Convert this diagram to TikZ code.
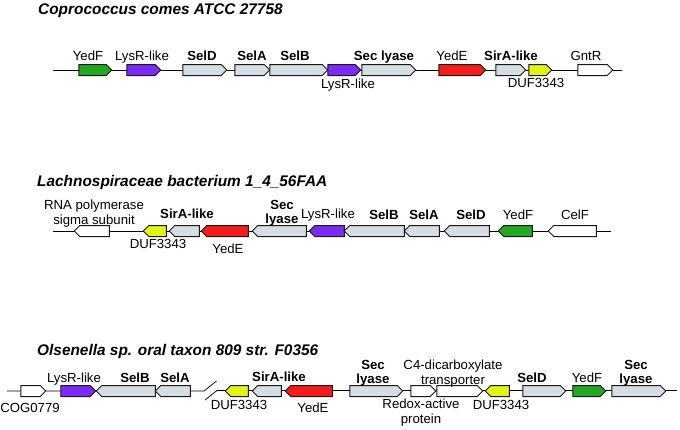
\documentclass[tikz,border=0pt]{standalone}
\usepackage{fontspec}
\setmainfont{Liberation Sans}
\usetikzlibrary{shapes.arrows}
\definecolor{gGreen}{RGB}{34,168,34}
\definecolor{gPurple}{RGB}{122,44,245}
\definecolor{gRed}{RGB}{245,28,28}
\definecolor{gYellow}{RGB}{226,244,22}
\definecolor{gGray}{RGB}{212,222,227}
\definecolor{gEdge}{RGB}{25,25,25}
\tikzset{
  gene/.style={shape=single arrow, single arrow head extend=0pt,
    single arrow tip angle=90, minimum width=11pt, inner sep=0pt, outer sep=0pt,
    draw=gEdge, line width=1pt},
  gR/.style={},
  gL/.style={shape border rotate=180},
  green/.style={fill=gGreen}, purple/.style={fill=gPurple}, red/.style={fill=gRed},
  yellow/.style={fill=gYellow}, gray/.style={fill=gGray}, white/.style={fill=white},
  backbone/.style={draw=black, line width=0.75pt},
  lab/.style={font=\fontsize{13.2}{14.5}\selectfont, inner sep=0pt, anchor=base},
  blab/.style={lab, font=\fontsize{13.2}{14.5}\selectfont\bfseries},
  mlab/.style={lab, anchor=north, align=center},
  mblab/.style={blab, anchor=north, align=center},
  title/.style={font=\fontsize{15.4}{17}\selectfont\bfseries\itshape, inner sep=0pt, anchor=base west}
}
\newcommand\gene[6]{\node[gene,#5,#6,minimum height={#3-#2}] (#1) at ({(#2+#3)/2},#4) {};}
\begin{document}
\begin{tikzpicture}[x=1pt,y=-1pt]
\useasboundingbox (0,0) rectangle (680,429);
% ---------- Row 1 ----------
\node[title] (t1) at (38,14) {Coprococcus comes ATCC 27758};
\coordinate (r1s) at (53,70);
\coordinate (r1e) at (622,70);
\draw[backbone] (r1s) -- (r1e);
\gene{g1a}{76}{109}{70}{green}{gR}
\gene{g1b}{124}{158}{70}{purple}{gR}
\gene{g1c}{180}{224}{70}{gray}{gR}
\gene{g1d}{232}{267}{70}{gray}{gR}
\gene{g1e}{267}{325}{70}{gray}{gR}
\gene{g1f}{325}{358}{70}{purple}{gR}
\gene{g1g}{359}{413}{70}{gray}{gR}
\gene{g1h}{436}{483}{70}{red}{gR}
\gene{g1i}{493}{523}{70}{gray}{gR}
\gene{g1j}{526}{549}{70}{yellow}{gR}
\gene{g1k}{575}{610}{70}{white}{gR}
\node[lab] (l1a) at (88,60) {YedF};
\node[lab] (l1b) at (142,60) {LysR-like};
\node[blab] (l1c) at (202,60) {SelD};
\node[blab] (l1d) at (252,60) {SelA};
\node[blab] (l1e) at (295,60) {SelB};
\node[lab] (l1f) at (348,88) {LysR-like};
\node[blab] (l1g) at (384,60) {Sec lyase};
\node[lab] (l1h) at (452,60) {YedE};
\node[blab] (l1i) at (511,60) {SirA-like};
\node[lab] (l1j) at (536,87) {DUF3343};
\node[lab] (l1k) at (586,60) {GntR};
% ---------- Row 2 ----------
\node[title] (t2) at (37,186) {Lachnospiraceae bacterium 1\_4\_56FAA};
\coordinate (r2s) at (53,231);
\coordinate (r2e) at (611,231);
\draw[backbone] (r2s) -- (r2e);
\gene{g2a}{77}{112}{231}{white}{gL}
\gene{g2b}{146}{169}{231}{yellow}{gL}
\gene{g2c}{172}{202}{231}{gray}{gL}
\gene{g2d}{204}{251}{231}{red}{gL}
\gene{g2e}{255}{309}{231}{gray}{gL}
\gene{g2f}{312}{347}{231}{purple}{gL}
\gene{g2g}{347}{407}{231}{gray}{gL}
\gene{g2h}{407}{442}{231}{gray}{gL}
\gene{g2i}{447}{492}{231}{gray}{gL}
\gene{g2j}{501}{535}{231}{green}{gL}
\gene{g2k}{551}{599}{231}{white}{gL}
\node[mlab] (l2a) at (94,200) {RNA polymerase\\sigma subunit};
\node[blab] (l2c) at (187,218) {SirA-like};
\node[mblab] (l2e) at (282,200) {Sec\\lyase};
\node[lab] (l2f) at (328,218) {LysR-like};
\node[lab] (l2b) at (158,248) {DUF3343};
\node[lab] (l2d) at (228,253) {YedE};
\node[blab] (l2g) at (384,219) {SelB};
\node[blab] (l2h) at (424,219) {SelA};
\node[blab] (l2i) at (471,219) {SelD};
\node[lab] (l2j) at (518,219) {YedF};
\node[lab] (l2k) at (575,219) {CelF};
% ---------- Row 3 ----------
\node[title] (t3) at (37,355) {Olsenella sp. oral taxon 809 str. F0356};
\coordinate (r3s) at (7,391);
\coordinate (r3b1) at (204,391);
\coordinate (r3b1t) at (216.5,381);
\coordinate (r3b2b) at (205,400);
\coordinate (r3b2) at (217,390.5);
\coordinate (r3e) at (677,391);
\draw[backbone] (r3s) -- (r3b1) -- (r3b1t);
\draw[backbone] (r3b2b) -- (r3b2) -- (r3b2 -| r3e);
\gene{g3a}{18}{43}{391}{white}{gR}
\gene{g3b}{58}{93}{391}{purple}{gR}
\gene{g3c}{99}{158}{391}{gray}{gL}
\gene{g3d}{158}{193}{391}{gray}{gL}
\gene{g3e}{228}{251}{391}{yellow}{gL}
\gene{g3f}{255}{284}{391}{gray}{gL}
\gene{g3g}{288}{335}{391}{red}{gL}
\gene{g3h}{347}{400}{391}{gray}{gR}
\gene{g3i}{408}{433}{391}{white}{gR}
\gene{g3j}{434}{480}{391}{white}{gR}
\gene{g3k}{488}{512}{391}{yellow}{gL}
\gene{g3l}{520}{563}{391}{gray}{gR}
\gene{g3m}{570}{603}{391}{green}{gR}
\gene{g3n}{609}{663}{391}{gray}{gR}
\node[lab] (l3a) at (30,412) {COG0779};
\node[lab] (l3b) at (74,382) {LysR-like};
\node[blab] (l3c) at (135,382) {SelB};
\node[blab] (l3d) at (175,382) {SelA};
\node[blab] (l3f) at (279,381) {SirA-like};
\node[lab] (l3e) at (239,409) {DUF3343};
\node[lab] (l3g) at (313,412) {YedE};
\node[mblab] (l3h) at (373,360) {Sec\\lyase};
\node[mlab] (l3j) at (453,360) {C4-dicarboxylate\\transporter};
\node[mlab] (l3i) at (421,399) {Redox-active\\protein};
\node[lab] (l3k) at (501,409) {DUF3343};
\node[blab] (l3l) at (532,382) {SelD};
\node[lab] (l3m) at (587,382) {YedF};
\node[mblab] (l3n) at (636,360) {Sec\\lyase};
\end{tikzpicture}
\end{document}
